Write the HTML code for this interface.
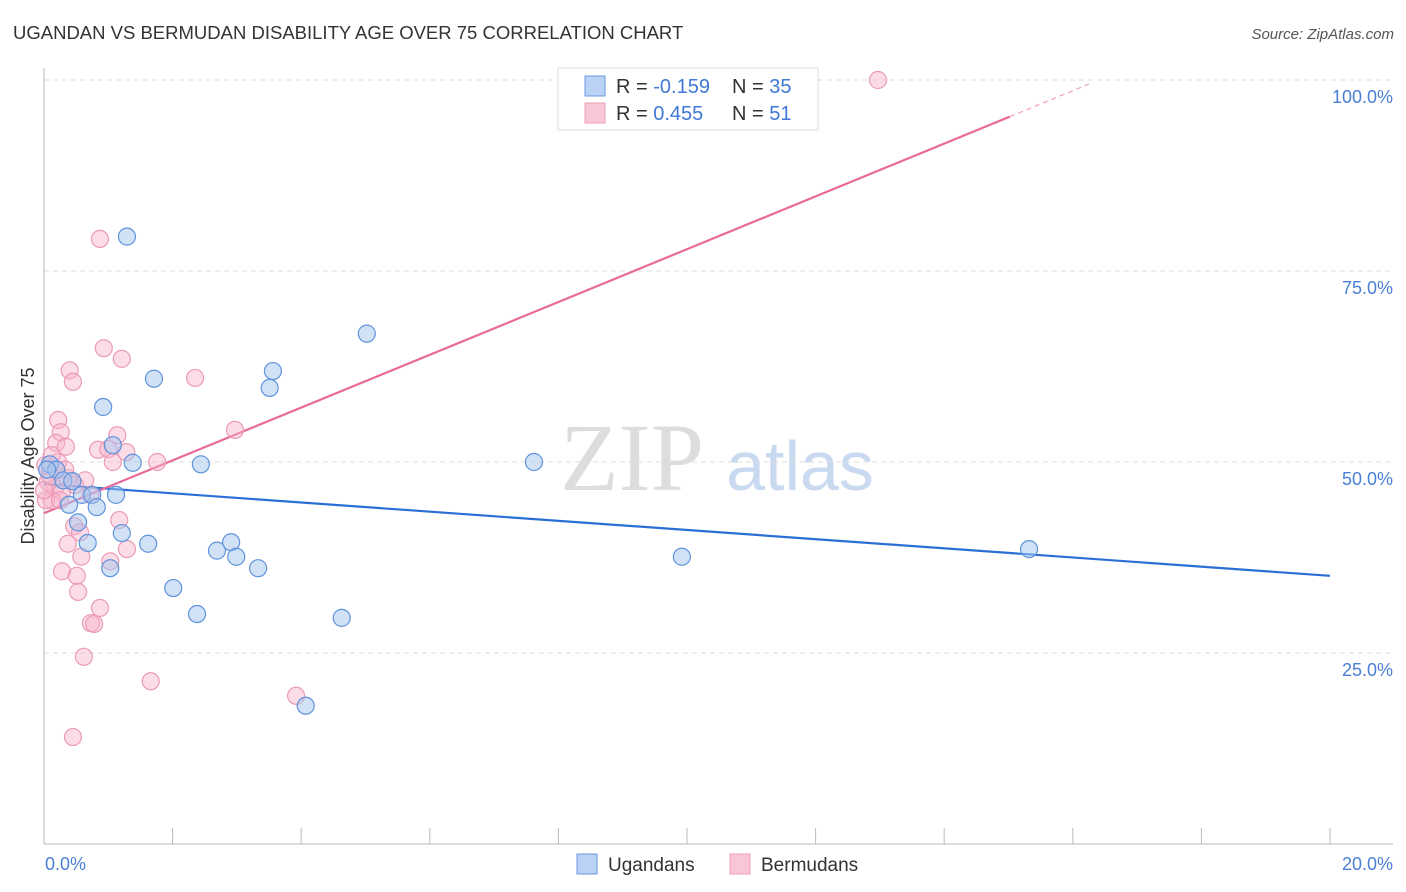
<!DOCTYPE html>
<html><head><meta charset="utf-8"><style>
body{margin:0;background:#fff;font-family:"Liberation Sans",sans-serif}
svg{display:block}
</style></head><body>
<svg id="chart" width="1406" height="892" viewBox="0 0 1406 892" xmlns="http://www.w3.org/2000/svg" font-family="Liberation Sans, sans-serif">
<text x="13" y="39" font-size="18.5" fill="#333">UGANDAN VS BERMUDAN DISABILITY AGE OVER 75 CORRELATION CHART</text>
<text x="1394" y="39" font-size="15" font-style="italic" fill="#555" text-anchor="end">Source: ZipAtlas.com</text>
<g>
<text x="632" y="490" font-size="96" font-family="Liberation Serif, serif" fill="#ddd" text-anchor="middle">ZIP</text>
<text x="800" y="490" font-size="70" fill="#c9d9f0" text-anchor="middle">atlas</text>
</g>
<g id="grid"></g>
<g id="axes"></g>
<g id="trends"></g>
<g id="points"></g>
<text transform="translate(34,456) rotate(-90)" font-size="18" fill="#333" text-anchor="middle">Disability Age Over 75</text>
<text x="45" y="870" font-size="18" fill="#4a7fd6">0.0%</text>
<text x="1393" y="870" font-size="18" fill="#4a7fd6" text-anchor="end">20.0%</text>
<g>
<rect x="558" y="68" width="260" height="62" fill="#fff" stroke="#ddd"/>
<rect x="585" y="76" width="20" height="20" fill="#b9d2f5" stroke="#6a9ae0"/>
<rect x="585" y="103" width="20" height="20" fill="#f9c6d6" stroke="#eba0b9"/>
<text x="616" y="93" font-size="20" fill="#333">R = <tspan fill="#3f78d6">-0.159</tspan></text>
<text x="732" y="93" font-size="20" fill="#333">N = <tspan fill="#3f78d6">35</tspan></text>
<text x="616" y="120" font-size="20" fill="#333">R = <tspan fill="#3f78d6"> 0.455</tspan></text>
<text x="732" y="120" font-size="20" fill="#333">N = <tspan fill="#3f78d6"> 51</tspan></text>
</g>
<g>
<rect x="577" y="854" width="20" height="20" fill="#b9d2f5" stroke="#6a9ae0"/>
<text x="608" y="871" font-size="19" fill="#333">Ugandans</text>
<rect x="730" y="854" width="20" height="20" fill="#f9c6d6" stroke="#eba0b9"/>
<text x="761" y="871" font-size="19" fill="#333">Bermudans</text>
</g>
</svg>
<script>
const yTicks=[25,50,75,100];
const yTickLabels=["25.0%","50.0%","75.0%","100.0%"];
const xTicks=[0,2,4,6,8,10,12,14,16,18,20];
const ugX=[1.29,0.92,1.71,3.56,3.51,5.02,1.07,1.38,2.44,7.62,0.09,0.19,0.30,0.44,0.59,0.75,1.12,0.39,0.82,0.53,1.21,0.68,1.62,1.03,2.69,2.91,2.99,3.33,2.01,2.38,4.63,4.07,9.92,15.32,0.05];
const ugY=[79.5,57.2,60.9,61.9,59.7,66.8,52.2,49.9,49.7,50.0,49.7,49.0,47.6,47.5,45.7,45.7,45.7,44.4,44.1,42.1,40.7,39.4,39.3,36.1,38.4,39.5,37.6,36.1,33.5,30.1,29.6,18.1,37.6,38.6,49.0];
const bmX=[12.97,0.87,0.93,1.21,0.40,0.45,2.35,0.22,0.26,2.97,0.19,0.34,0.84,1.14,1.00,1.28,1.07,1.76,0.02,0.09,0.17,0.37,0.48,0.28,0.12,0.03,0.72,1.17,0.47,0.56,0.37,1.29,1.03,0.58,0.28,0.51,0.53,0.87,0.73,0.78,0.62,1.66,3.92,0.45,0.06,0.22,0.33,0.64,0.12,0.25,0.0];
const bmY=[100.0,79.2,64.9,63.5,62.0,60.5,61.0,55.5,53.9,54.2,52.5,52.0,51.6,53.5,51.7,51.3,50.0,50.0,49.6,48.3,46.6,47.9,47.0,46.1,45.0,45.0,45.7,42.4,41.6,40.8,39.3,38.6,37.0,37.6,35.7,35.1,33.0,30.9,28.9,28.8,24.5,21.3,19.4,14.0,47.4,50.0,49.0,47.6,50.9,45.0,46.3];
const ugTrend=[47.1,35.1];
const bmTrend=[43.3,95.2];
const bmTrendEnd=15.02;

const NS="http://www.w3.org/2000/svg";
const sx=v=>44+v/20*1286;
const sy=v=>844-v/100*764;
function mk(tag,attrs,parent){const e=document.createElementNS(NS,tag);for(const k in attrs)e.setAttribute(k,attrs[k]);parent.appendChild(e);return e;}
const grid=document.getElementById('grid'),axes=document.getElementById('axes'),trends=document.getElementById('trends'),pts=document.getElementById('points');
yTicks.forEach((t,i)=>{
  const l=mk('line',{x1:44,x2:1393,y1:sy(t),y2:sy(t),stroke:'#ddd','stroke-dasharray':'5,4'},grid);
  
  
  const tx=mk('text',{x:1393,y:sy(t)+23,'font-size':18,fill:'#4a7fd6','text-anchor':'end'},grid);
  tx.textContent=yTickLabels[i];
  
  
});
const ax=mk('line',{x1:44,x2:44,y1:68,y2:844,stroke:'#bbb'},axes);


const bx=mk('line',{x1:44,x2:1393,y1:844,y2:844,stroke:'#bbb'},axes);


xTicks.forEach(t=>{
  const l=mk('line',{x1:sx(t),x2:sx(t),y1:828,y2:844,stroke:'#bbb'},axes);
  
  
});
const tb=mk('line',{x1:sx(0),y1:sy(ugTrend[0]),x2:sx(20),y2:sy(ugTrend[1]),stroke:'#2a6fd6','stroke-width':2.2},trends);


const tp=mk('line',{x1:sx(0),y1:sy(bmTrend[0]),x2:sx(bmTrendEnd),y2:sy(bmTrend[1]),stroke:'#e8699a','stroke-width':2.2},trends);


const slope=(bmTrend[1]-bmTrend[0])/bmTrendEnd;
const xe=(100-bmTrend[0])/slope;
const td=mk('line',{x1:sx(bmTrendEnd),y1:sy(bmTrend[1]),x2:sx(xe)-10,y2:sy(100)+4,stroke:'#f0a0bc','stroke-width':1.2,'stroke-dasharray':'5,4'},trends);


bmX.forEach((x,i)=>{
  const c=mk('circle',{cx:sx(x),cy:sy(bmY[i]),r:8.5,fill:'rgba(248,180,202,0.45)',stroke:'#eb9ab6','stroke-width':1.2},pts);
  
  
});
ugX.forEach((x,i)=>{
  const c=mk('circle',{cx:sx(x),cy:sy(ugY[i]),r:8.5,fill:'rgba(164,198,240,0.5)',stroke:'#5f93dc','stroke-width':1.2},pts);
  
  
});
</script>
</body></html>
